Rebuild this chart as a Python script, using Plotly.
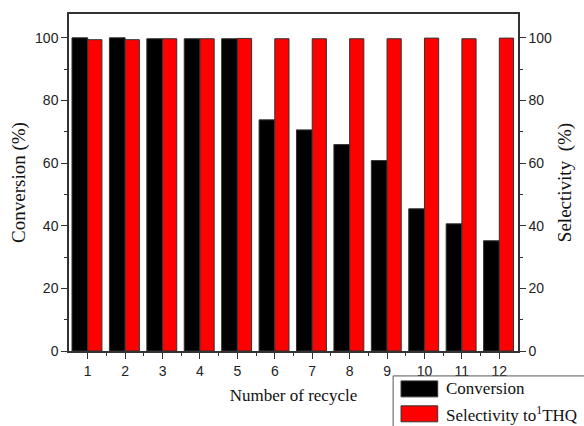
import plotly.graph_objects as go

# Recycling runs of the catalyst
cycles = [1, 2, 3, 4, 5, 6, 7, 8, 9, 10, 11, 12]
conversion = [100.0, 100.0, 99.7, 99.7, 99.7, 73.8, 70.6, 65.9, 60.8, 45.4, 40.6, 35.2]
selectivity = [99.4, 99.4, 99.7, 99.7, 99.8, 99.7, 99.7, 99.7, 99.7, 99.9, 99.7, 99.9]
y_ticks = [0, 20, 40, 60, 80, 100]

W, H = 584, 426
L, R, T, B = 69, 62, 13, 75
PW, PH = W - L - R, H - T - B


def px_x(p):
    return (p - L) / PW


def px_y(p):
    return (H - B - p) / PH


TICK_FONT = dict(family="Liberation Sans, Arial, sans-serif", size=14, color="#222")
TITLE_FONT = dict(family="Liberation Serif, Times New Roman, serif", size=17, color="#111")
YTITLE_FONT = dict(family="Liberation Serif, Times New Roman, serif", size=19, color="#111")
LINE = "#333"

fig = go.Figure()
fig.add_trace(go.Bar(
    x=cycles, y=conversion, name="Conversion",
    marker=dict(color="#000000", line=dict(color="#333", width=1)),
    offset=-0.42, width=0.42, showlegend=False,
))
fig.add_trace(go.Bar(
    x=cycles, y=selectivity, name="Selectivity", yaxis="y2",
    marker=dict(color="#ff0000", line=dict(color="#333", width=1)),
    offset=0.0, width=0.38, showlegend=False,
))

axis_common = dict(
    showgrid=False, zeroline=False, showline=True, linecolor=LINE, linewidth=1.5,
    ticks="outside", ticklen=6, tickwidth=1.2, tickcolor=LINE, tickfont=TICK_FONT,
)

fig.update_layout(
    width=W, height=H,
    margin=dict(l=L, r=R, t=T, b=B),
    paper_bgcolor="white", plot_bgcolor="white",
    barmode="overlay",
    xaxis=dict(
        **axis_common, range=[0.5, 12.5], tickvals=cycles, mirror=True,
        minor=dict(tickvals=[c + 0.5 for c in cycles[:-1]], ticks="outside",
                   ticklen=3, tickcolor=LINE, tickwidth=1),
        title=dict(text="Number of recycle", font=TITLE_FONT, standoff=12),
    ),
    yaxis=dict(
        **axis_common, range=[0, 107.6], tickvals=y_ticks,
        minor=dict(dtick=10, ticks="outside", ticklen=3, tickcolor=LINE, tickwidth=1),
        title=dict(text="Conversion (%)", font=YTITLE_FONT, standoff=4),
    ),
    yaxis2=dict(
        **axis_common, range=[0, 107.6], tickvals=y_ticks, overlaying="y", side="right",
        minor=dict(dtick=10, ticks="outside", ticklen=3, tickcolor=LINE, tickwidth=1),
        title=dict(text="Selectivity  (%)", font=YTITLE_FONT, standoff=7),
    ),
)

# Legend box drawn in the lower right corner
shapes = [
    dict(type="rect", xref="paper", yref="paper",
         x0=px_x(396), x1=px_x(590), y0=px_y(376), y1=px_y(432),
         line=dict(color="#555", width=1), fillcolor="white", layer="above"),
    dict(type="rect", xref="paper", yref="paper",
         x0=px_x(404), x1=px_x(441), y0=px_y(381), y1=px_y(397),
         line=dict(color="#333", width=1), fillcolor="#000000", layer="above"),
    dict(type="rect", xref="paper", yref="paper",
         x0=px_x(404), x1=px_x(441), y0=px_y(406), y1=px_y(422),
         line=dict(color="#333", width=1), fillcolor="#ff0000", layer="above"),
]
legend_labels = ["Conversion", "Selectivity to<sup>1</sup>THQ"]
label_rows = [389, 414]
annotations = [
    dict(text=t, xref="paper", yref="paper", x=px_x(447), y=px_y(py),
         xanchor="left", yanchor="middle", showarrow=False,
         font=dict(family=TITLE_FONT["family"], size=17, color="#111"))
    for t, py in zip(legend_labels, label_rows)
]
fig.update_layout(shapes=shapes, annotations=annotations)

fig.write_html("out.html")
